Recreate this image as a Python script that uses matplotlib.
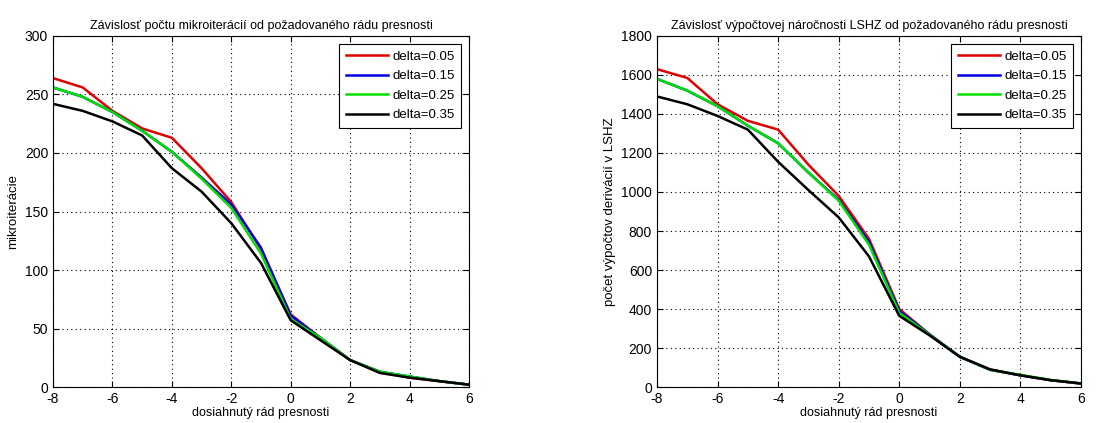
import numpy as np
import matplotlib.pyplot as plt

plt.rcParams['font.family'] = ['Liberation Sans', 'DejaVu Sans']
plt.rcParams['axes.unicode_minus'] = False

# dosiahnuty rad presnosti
rad = [-8, -7, -6, -5, -4, -3, -2, -1, 0, 1, 2, 3, 4, 5, 6]
labels = ['delta=0.05', 'delta=0.15', 'delta=0.25', 'delta=0.35']
colors = ['#e00000', '#0000e0', '#00e000', '#000000']

# mikroiteracie
mik_005 = [264, 256, 236, 221, 213, 187, 158, 118, 62, 42, 23, 13, 8, 5, 2]
mik_015 = [256, 248, 235, 219, 201, 179, 156, 119, 61, 42, 23, 13, 9, 5, 2]
mik_025 = [256, 248, 235, 219, 201, 178, 153, 114, 58, 42, 23, 13, 9, 5, 2]
mik_035 = [242, 236, 227, 215, 187, 167, 140, 106, 57, 40, 23, 12, 8, 5, 2]

# pocet vypoctov derivacii v LSHZ
der_005 = [1630, 1585, 1450, 1365, 1320, 1140, 980, 760, 400, 270, 155, 90, 60, 35, 18]
der_015 = [1580, 1520, 1440, 1340, 1250, 1100, 960, 745, 390, 270, 155, 88, 60, 35, 18]
der_025 = [1580, 1520, 1440, 1340, 1250, 1100, 955, 730, 380, 268, 155, 88, 62, 36, 18]
der_035 = [1490, 1450, 1390, 1320, 1155, 1010, 870, 670, 365, 265, 155, 90, 60, 35, 18]

fig = plt.figure(figsize=(11.09, 4.23), dpi=100)
ax1 = fig.add_axes([0.0478, 0.0851, 0.3751, 0.8298])
ax2 = fig.add_axes([0.5924, 0.0851, 0.3823, 0.8298])


def kresli(ax, serie, ymax, ystep, ylabel, title):
    for s, c, l in zip(serie, colors, labels):
        ax.plot(rad, s, color=c, lw=1.8, label=l)
    ax.set_xlim(-8, 6)
    ax.set_ylim(0, ymax)
    ax.set_xticks(np.arange(-8, 7, 2))
    ax.set_yticks(np.arange(0, ymax + 1, ystep))
    ax.grid(True, color='k', linestyle=(0, (1, 3)), linewidth=0.8)
    ax.tick_params(direction='in', top=True, right=True, labelsize=10, length=4)
    ax.set_xlabel('dosiahnutý rád presnosti', fontsize=9, labelpad=1)
    ax.set_ylabel(ylabel, fontsize=9.5)
    ax.set_title(title, fontsize=9, pad=5)
    for sp in ax.spines.values():
        sp.set_linewidth(0.8)
    leg = ax.legend(loc='upper right', fontsize=9.5, fancybox=False, edgecolor='k',
                    framealpha=1, handlelength=3.2, borderaxespad=0.6,
                    labelspacing=0.55, handletextpad=0.3, borderpad=0.5)
    leg.get_frame().set_linewidth(0.8)


kresli(ax1, [mik_005, mik_015, mik_025, mik_035], 300, 50, 'mikroiterácie',
       'Závislosť počtu mikroiterácií od požadovaného rádu presnosti')
kresli(ax2, [der_005, der_015, der_025, der_035], 1800, 200,
       'počet výpočtov derivácií v LSHZ',
       'Závislosť výpočtovej náročnosti LSHZ od požadovaného rádu presnosti')

fig.savefig('out.png', dpi=100)
